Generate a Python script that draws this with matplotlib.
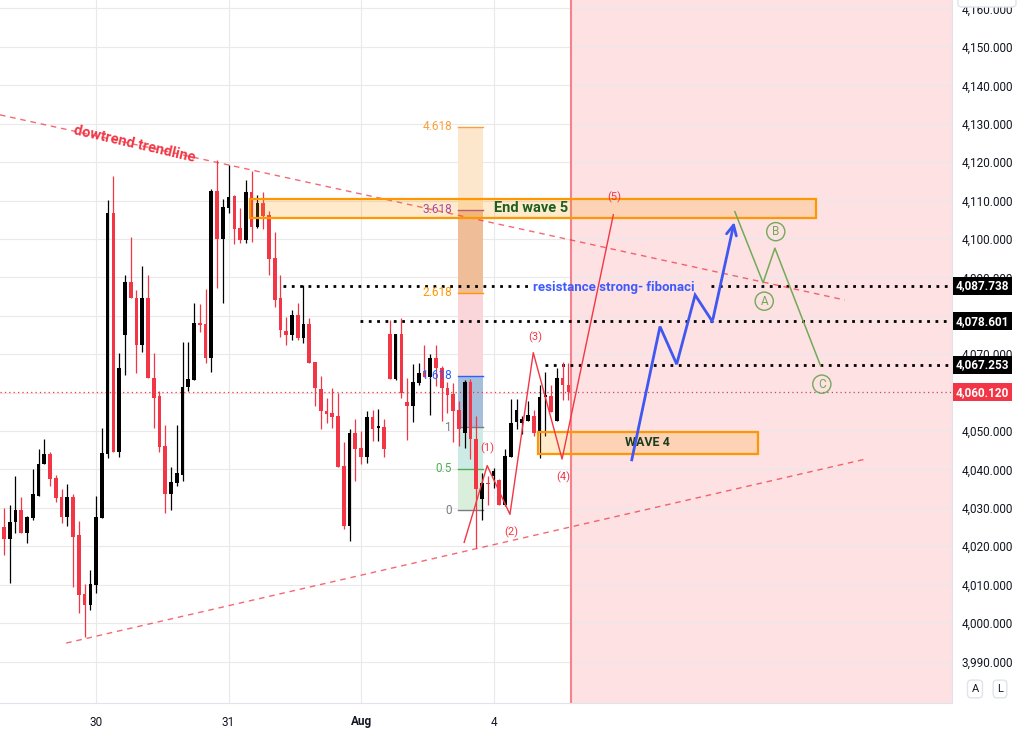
import numpy as np
import matplotlib
matplotlib.use('Agg')
import matplotlib.pyplot as plt
import matplotlib.transforms as mtransforms
from matplotlib.patches import Rectangle, FancyBboxPatch

plt.rcParams['font.family'] = ['Roboto', 'DejaVu Sans']

# hourly candles
opens = [4025.0, 4022.0, 4026.2, 4029.5, 4023.5, 4027.4, 4033.2, 4041.3, 4044.0, 4037.8,
         4032.8, 4027.5, 4032.8, 4022.9, 4007.6, 4004.8, 4010.0, 4027.4, 4044.1, 4106.8,
         4044.6, 4074.9, 4088.8, 4084.7, 4072.3, 4084.7, 4063.8, 4059.1, 4046.1, 4033.7,
         4036.5, 4038.6, 4061.4, 4063.4, 4078.2, 4077.9, 4068.9, 4112.5, 4100.0, 4108.1,
         4111.1, 4102.9, 4099.6, 4112.3, 4103.2, 4109.4, 4106.2, 4095.1, 4084.5, 4076.1,
         4075.1, 4080.2, 4074.3, 4077.9, 4068.0, 4061.0, 4055.3, 4054.7, 4053.9, 4041.0,
         4025.4, 4049.5, 4045.6, 4043.3, 4053.6, 4050.9, 4051.1, 4075.3, 4063.6, 4075.3,
         4057.5, 4056.6, 4062.5, 4065.3, 4064.0, 4069.0, 4066.4, 4061.2, 4059.7, 4055.6,
         4049.5, 4062.7, 4047.9, 4032.2, 4036.5, 4038.4, 4037.2, 4030.7, 4043.3, 4052.3,
         4052.1, 4052.7, 4053.9, 4049.5, 4058.9, 4059.1, 4052.6, 4063.8, 4061.9]
highs = [4030.0, 4030.8, 4038.4, 4032.8, 4028.0, 4040.1, 4045.2, 4048.0, 4044.6, 4038.6,
         4034.8, 4036.2, 4033.6, 4026.6, 4010.2, 4013.9, 4033.2, 4050.8, 4110.1, 4116.5,
         4070.3, 4090.6, 4100.6, 4086.8, 4092.9, 4090.6, 4070.3, 4060.4, 4051.6, 4040.6,
         4051.6, 4073.2, 4073.2, 4083.4, 4083.1, 4087.0, 4113.1, 4120.5, 4110.5, 4119.2,
         4111.4, 4108.1, 4115.3, 4117.8, 4111.4, 4112.3, 4107.2, 4101.9, 4090.7, 4079.7,
         4081.6, 4083.4, 4087.9, 4079.5, 4068.0, 4064.3, 4058.6, 4061.2, 4059.8, 4047.2,
         4050.6, 4053.0, 4049.9, 4055.1, 4055.4, 4055.7, 4053.2, 4079.0, 4075.3, 4079.3,
         4063.8, 4067.5, 4067.7, 4072.3, 4070.1, 4072.5, 4066.9, 4062.8, 4062.4, 4057.8,
         4063.4, 4063.6, 4053.8, 4039.1, 4038.4, 4040.3, 4037.5, 4045.3, 4058.4, 4058.4,
         4054.0, 4057.8, 4055.6, 4062.1, 4065.4, 4062.1, 4066.4, 4067.9, 4067.7]
lows = [4017.8, 4010.5, 4023.5, 4023.5, 4020.9, 4026.9, 4033.2, 4041.3, 4035.8, 4031.6,
        4026.1, 4025.4, 4009.4, 4002.6, 3996.3, 4003.5, 4007.9, 4027.4, 4043.0, 4044.6,
        4043.2, 4064.7, 4084.5, 4065.1, 4070.7, 4063.7, 4050.8, 4044.6, 4028.7, 4029.5,
        4035.6, 4037.1, 4060.5, 4063.4, 4075.8, 4067.6, 4065.4, 4087.3, 4083.4, 4106.8,
        4098.8, 4099.0, 4099.0, 4099.3, 4102.9, 4102.5, 4090.7, 4082.3, 4074.5, 4072.3,
        4073.6, 4073.6, 4072.9, 4067.7, 4056.4, 4050.6, 4052.1, 4050.8, 4040.7, 4024.6,
        4021.3, 4037.1, 4041.4, 4041.7, 4047.3, 4047.3, 4043.3, 4063.6, 4063.4, 4058.6,
        4047.6, 4052.3, 4062.1, 4064.0, 4054.3, 4061.7, 4052.6, 4054.7, 4047.2, 4046.0,
        4045.6, 4042.7, 4019.6, 4026.9, 4030.8, 4035.2, 4030.7, 4030.4, 4043.3, 4050.6,
        4049.3, 4052.5, 4048.6, 4043.0, 4048.6, 4054.9, 4052.6, 4058.2, 4058.2]
closes = [4022.0, 4026.3, 4029.5, 4023.5, 4027.6, 4033.5, 4041.4, 4044.0, 4037.6, 4032.6,
          4027.5, 4032.8, 4022.5, 4007.4, 4004.8, 4010.2, 4027.6, 4044.3, 4106.8, 4044.6,
          4066.4, 4088.8, 4084.5, 4072.3, 4084.7, 4063.7, 4058.6, 4045.9, 4033.7, 4036.7,
          4039.1, 4061.4, 4063.6, 4078.2, 4077.7, 4068.9, 4112.5, 4099.9, 4108.4, 4111.0,
          4102.6, 4099.6, 4112.3, 4103.2, 4109.4, 4105.9, 4094.9, 4084.2, 4076.2, 4075.1,
          4080.2, 4074.3, 4077.9, 4067.7, 4061.1, 4055.1, 4054.5, 4053.7, 4040.7, 4025.4,
          4049.5, 4045.4, 4043.3, 4053.6, 4050.6, 4051.1, 4045.2, 4063.6, 4075.3, 4059.8,
          4056.6, 4062.8, 4065.1, 4064.0, 4069.0, 4066.4, 4061.1, 4059.5, 4055.3, 4050.5,
          4062.7, 4047.9, 4034.9, 4036.5, 4036.1, 4039.5, 4030.7, 4043.4, 4052.1, 4055.4,
          4053.0, 4054.3, 4049.5, 4058.8, 4059.1, 4054.9, 4063.8, 4061.9, 4060.1]

date_pos = [16, 39, 62, 85]
date_labels = ['30', '31', 'Aug', '4']

last_price = 4060.120
levels = [4087.738, 4078.601, 4067.253]
level_start = [48.4, 61.8, 93.9]

# fib extension
fib_base, fib_range = 4029.4, 21.6
fib_ratios = [0, 0.5, 1, 1.618, 2.618, 3.618, 4.618]
fib_labels = ['0', '0.5', '1', '1.618', '2.618', '3.618', '4.618']
fib_x = (78.9, 83.1)

# drawings (bar index, price)
down_tl = ([-0.7, 146.0], [4132.3, 4084.1])
up_tl = ([10.8, 149.6], [3994.8, 4042.7])
wave_x = [79.9, 83.9, 87.85, 91.9, 96.9, 105.8]
wave_y = [4021.0, 4041.0, 4028.3, 4070.4, 4042.7, 4106.3]
wave_lbl = ['(1)', '(2)', '(3)', '(4)', '(5)']
wave_lbl_x = [83.9, 88.0, 92.2, 97.05, 105.9]
wave_lbl_y = [4045.6, 4023.7, 4074.5, 4038.0, 4110.9]
blue_x = [109.0, 113.9, 116.8, 120.0, 123.0, 126.9]
blue_y = [4042.5, 4077.2, 4067.4, 4085.4, 4078.5, 4105.1]
abc_x = [126.9, 131.8, 133.85, 141.8]
abc_y = [4107.1, 4088.6, 4097.6, 4066.9]
abc_lbl = ['A', 'B', 'C']
abc_lbl_x = [132.0, 134.0, 142.0]
abc_lbl_y = [4083.8, 4101.9, 4062.2]

RED = '#f23645'
GREEN = '#73a958'
fig = plt.figure(figsize=(10.18, 7.33), dpi=100)
ax = fig.add_axes([0, 30/733, 952/1018, 703/733])
xmin, xmax = -0.69, 164.6
ymin, ymax = 3979.2, 4162.2
ax.set_xlim(xmin, xmax)
ax.set_ylim(ymin, ymax)

# grid
for p in np.arange(3990, 4170, 10):
    ax.axhline(p, color='#e9e9ec', lw=0.8, zorder=1)
for d in date_pos:
    ax.axvline(d, color='#e9e9ec', lw=0.8, zorder=1)

# future zone
ax.axvspan(98.44, xmax, color='#fde1e3', lw=0, zorder=0.8)
ax.axvline(98.44, color='#f2838b', lw=1.5, zorder=2)

# candles
o, h, l, c = map(np.array, (opens, highs, lows, closes))
idx = np.arange(len(o))
up = c >= o
cols = np.where(up, '#000000', RED)
ax.vlines(idx, l, h, colors=cols, lw=0.9, zorder=4)
ax.bar(idx, np.maximum(np.abs(c - o), 0.35), bottom=np.minimum(o, c), width=0.64,
       color=cols, lw=0, zorder=4)

# price lines
ax.axhline(last_price, color=RED, lw=0.9, ls=(0, (1, 2.5)), zorder=3)
for lv, xs in zip(levels, level_start):
    if lv == levels[0]:
        ax.plot([xs, 91.0], [lv, lv], color='k', lw=2, ls=(0, (1, 2)), zorder=3)
        ax.plot([122.7, xmax], [lv, lv], color='k', lw=2, ls=(0, (1, 2)), zorder=3)
    else:
        ax.plot([xs, xmax], [lv, lv], color='k', lw=2, ls=(0, (1, 2)), zorder=3)
ax.text(91.8, levels[0] - 0.3, 'resistance strong- fibonaci', color='#3d5afe',
        fontsize=9.5, fontweight='bold', va='center', ha='left', zorder=6)

# fib extension box
fib_fill = ['#d9efdb', '#cdebe6', '#a7bedb', '#fad6da', '#efbe98', '#fde7cc']
fib_line = ['#787b86', '#4caf50', '#787b86', '#2962ff', '#ff9800', '#a74c9e', '#f7a13a']
fp = [fib_base + r * fib_range for r in fib_ratios]
for i in range(len(fp) - 1):
    ax.add_patch(Rectangle((fib_x[0], fp[i]), fib_x[1] - fib_x[0], fp[i + 1] - fp[i],
                           facecolor=fib_fill[i], edgecolor='none', zorder=2.5))
for p, lab, col in zip(fp, fib_labels, fib_line):
    ax.plot(fib_x, [p, p], color=col, lw=1, zorder=2.6)
    ax.text(fib_x[0] - 1.1, p, lab, color=col, fontsize=8.5, ha='right', va='center', zorder=6)

# trend lines
ax.plot(*down_tl, color=RED, alpha=0.75, lw=1, ls=(0, (4, 3.5)), zorder=5)
ax.plot(*up_tl, color=RED, alpha=0.75, lw=1, ls=(0, (4, 3.5)), zorder=5)
ax.text(22.6, 4124.6, 'dowtrend trendline', color=RED, fontsize=10.5, fontweight='bold',
        rotation=-13, ha='center', va='center', rotation_mode='anchor', zorder=6)

# zones
ax.add_patch(Rectangle((42.7, 4105.5), 141.0 - 42.7, 4.9, facecolor='#ff9800', alpha=0.2,
                       edgecolor='none', zorder=5))
ax.add_patch(Rectangle((42.7, 4105.5), 141.0 - 42.7, 4.9, facecolor='none',
                       edgecolor='#ff9800', lw=1.6, zorder=5))
ax.text(91.5, 4108.0, 'End wave 5', color='#1e5e22', fontsize=10.5, fontweight='bold',
        ha='center', va='center', zorder=6)
ax.add_patch(Rectangle((92.8, 4044.0), 130.9 - 92.8, 5.7, facecolor='#ff9800', alpha=0.2,
                       edgecolor='none', zorder=5))
ax.add_patch(Rectangle((92.8, 4044.0), 130.9 - 92.8, 5.7, facecolor='none',
                       edgecolor='#ff9800', lw=1.6, zorder=5))
ax.text(111.8, 4047.0, 'WAVE 4', color='#1d3d1f', fontsize=9, fontweight='bold',
        ha='center', va='center', zorder=6)

# elliott count
ax.plot(wave_x, wave_y, color=RED, lw=1, zorder=6)
for t, xx, yy in zip(wave_lbl, wave_lbl_x, wave_lbl_y):
    ax.text(xx, yy, t, color=RED, fontsize=8, ha='center', va='center', zorder=6)
ax.annotate('', xy=(blue_x[-1], blue_y[-1]), xytext=(blue_x[-2], blue_y[-2]),
            arrowprops=dict(arrowstyle='->', color='#4058f0', lw=2, mutation_scale=18), zorder=6)
ax.plot(blue_x[:-1], blue_y[:-1], color='#4058f0', lw=2, zorder=6, solid_joinstyle='miter')
ax.plot(abc_x, abc_y, color=GREEN, lw=1.1, zorder=6)
for t, xx, yy in zip(abc_lbl, abc_lbl_x, abc_lbl_y):
    ax.text(xx, yy, t, color=GREEN, fontsize=8.5, ha='center', va='center', zorder=6,
            bbox=dict(boxstyle='circle,pad=0.22', fc='none', ec=GREEN, lw=1))

# axes styling
for s in ['top', 'left']:
    ax.spines[s].set_visible(False)
ax.spines['bottom'].set_color('#e0e3eb')
ax.spines['right'].set_color('#e0e3eb')
ax.yaxis.tick_right()
yt = np.arange(3990, 4170, 10)
ax.set_yticks(yt)
ax.set_yticklabels(['' if v == 4060 else '{:,.3f}'.format(v) for v in yt])
ax.tick_params(axis='y', length=0, pad=7, labelsize=8.5, labelcolor='#131722')
ax.set_xticks(date_pos)
ax.set_xticklabels(date_labels)
ax.tick_params(axis='x', length=0, pad=9, labelsize=8.5, labelcolor='#131722')
ax.get_xticklabels()[2].set_fontweight('bold')

# price tags
trans = mtransforms.blended_transform_factory(ax.transAxes, ax.transData)
for lv in levels:
    ax.text(1.004, lv, '{:,.3f}'.format(lv), transform=trans, color='white', fontsize=8.5,
            fontweight='bold', va='center', ha='left', clip_on=False, zorder=10,
            bbox=dict(boxstyle='square,pad=0.22', fc='black', ec='none'))
ax.text(1.004, last_price, '{:,.3f}'.format(last_price), transform=trans, color='white',
        fontsize=8.5, fontweight='bold', va='center', ha='left', clip_on=False, zorder=10,
        bbox=dict(boxstyle='square,pad=0.22', fc=RED, ec='none'))

# top-right button and A / L
fig.patches.append(FancyBboxPatch((958/1018, 726/733), 58/1018, 12/733,
                                  boxstyle='round,pad=0,rounding_size=0.004',
                                  transform=fig.transFigure, fc='white', ec='#e0e3eb', lw=1))
for xx, t in [(975, 'A'), (1000, 'L')]:
    fig.text(xx/1018, 1 - 689/733, t, fontsize=8, ha='center', va='center', color='#131722',
             bbox=dict(boxstyle='round,pad=0.35', fc='white', ec='#e0e3eb'))

fig.savefig('out.png', dpi=100)
